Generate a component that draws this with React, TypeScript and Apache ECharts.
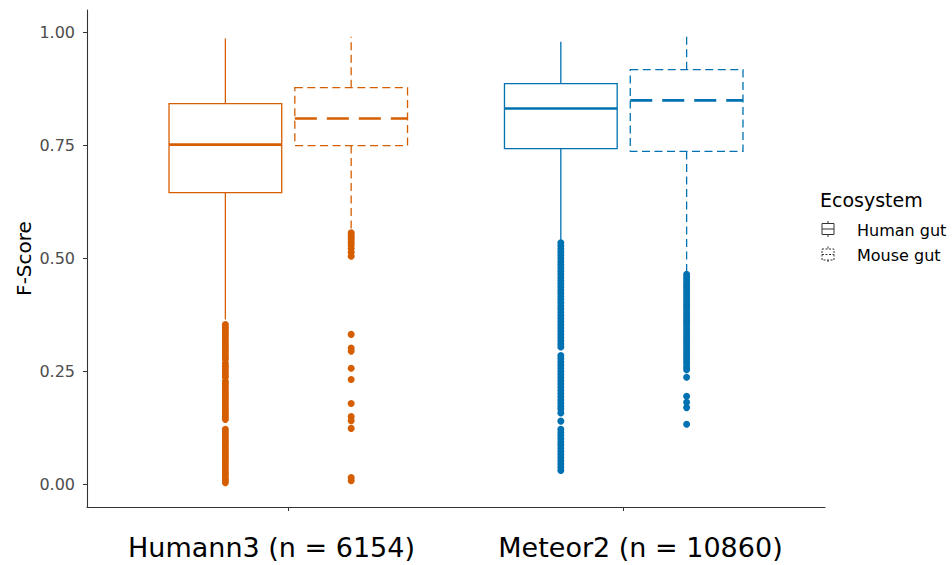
import React, { useEffect, useRef } from "react";
import * as echarts from "echarts";

// ---------- data ----------
const CATEGORIES = ["Humann3 (n = 6154)", "Meteor2 (n = 10860)"];
const GROUPS = ["Human gut", "Mouse gut"];
const Y_TICKS = [0, 0.25, 0.5, 0.75, 1];

// box stats: [lower whisker, Q1, median, Q3, upper whisker]
const HUMANN3_HUMAN_BOX = [0.365, 0.646, 0.752, 0.843, 0.987];
const HUMANN3_MOUSE_BOX = [0.56, 0.75, 0.81, 0.878, 0.991];
const METEOR2_HUMAN_BOX = [0.538, 0.743, 0.832, 0.887, 0.98];
const METEOR2_MOUSE_BOX = [0.472, 0.737, 0.85, 0.918, 1.0];

// outliers
const HUMANN3_HUMAN_OUT = [
  0.354, 0.348, 0.342, 0.336, 0.33, 0.324, 0.318, 0.312, 0.306, 0.3, 0.294, 0.288, 0.282, 0.277,
  0.268, 0.262, 0.256, 0.25, 0.244, 0.238,
  0.228, 0.222, 0.216, 0.21, 0.204, 0.198, 0.192, 0.186, 0.18, 0.174, 0.168, 0.162, 0.156, 0.15, 0.144,
  0.122, 0.116, 0.11, 0.104, 0.098, 0.092, 0.086, 0.08, 0.074, 0.068, 0.062, 0.056, 0.05, 0.044, 0.038,
  0.032, 0.026, 0.021, 0.014, 0.009, 0.004,
];
const HUMANN3_MOUSE_OUT = [
  0.557, 0.552, 0.547, 0.542, 0.536, 0.53, 0.522, 0.514, 0.505, 0.332, 0.302, 0.295, 0.257, 0.232,
  0.179, 0.15, 0.141, 0.124, 0.015, 0.008,
];
const METEOR2_HUMAN_OUT = [
  0.535, 0.528, 0.521, 0.514, 0.507, 0.5, 0.493, 0.486, 0.479, 0.472, 0.465, 0.458, 0.451, 0.444,
  0.437, 0.43, 0.423, 0.416, 0.409, 0.402, 0.395, 0.388, 0.381, 0.374, 0.367, 0.36, 0.353, 0.346,
  0.339, 0.332, 0.325, 0.318, 0.311, 0.304,
  0.285, 0.278, 0.271, 0.264, 0.257, 0.25, 0.243, 0.236, 0.229, 0.222, 0.215, 0.208, 0.201, 0.194,
  0.187, 0.18, 0.173, 0.167, 0.158, 0.14,
  0.122, 0.115, 0.108, 0.101, 0.094, 0.087, 0.08, 0.073, 0.066, 0.059, 0.052, 0.045, 0.038, 0.031,
];
const METEOR2_MOUSE_OUT = [
  0.465, 0.459, 0.453, 0.447, 0.441, 0.435, 0.429, 0.423, 0.417, 0.411, 0.405, 0.399, 0.393, 0.387,
  0.381, 0.375, 0.369, 0.363, 0.357, 0.351, 0.345, 0.339, 0.333, 0.327, 0.321, 0.315, 0.309, 0.303,
  0.297, 0.291, 0.285, 0.279, 0.273, 0.267, 0.26, 0.254, 0.237, 0.195, 0.182, 0.17, 0.133,
];

// ---------- styles / layout ----------
const COLORS = ["#D55E00", "#0072B2"];
const FONT = "DejaVu Sans";
const DODGE = 0.1875;
const HALF_W = 0.168;
const THIN_DASH = [8, 4.5];
const MED_DASH = [22, 10];

const catX = (i: number) => i + 1;

function makeBoxSeries(name: string, boxes: number[][], dashed: boolean, offset: number) {
  return {
    name,
    type: "custom",
    xAxisIndex: 0,
    yAxisIndex: 0,
    encode: { x: 0, y: [1, 2, 3, 4, 5] },
    data: boxes.map((b, i) => ({
      value: [catX(i) + offset, ...b],
      itemStyle: { color: COLORS[i] },
    })),
    z: 3,
    renderItem: (params: any, api: any) => {
      const x = api.value(0);
      const low = api.value(1);
      const q1 = api.value(2);
      const med = api.value(3);
      const q3 = api.value(4);
      const high = api.value(5);
      const color = api.visual("color");
      const [xL, yQ3] = api.coord([x - HALF_W, q3]);
      const [xR, yQ1] = api.coord([x + HALF_W, q1]);
      const [cx, yMed] = api.coord([x, med]);
      const yLow = api.coord([x, low])[1];
      const yHigh = api.coord([x, high])[1];
      const thin: any = { stroke: color, lineWidth: 1.3, fill: null };
      if (dashed) thin.lineDash = THIN_DASH;
      const medStyle: any = { stroke: color, lineWidth: 2.6 };
      if (dashed) medStyle.lineDash = MED_DASH;
      return {
        type: "group",
        children: [
          { type: "line", shape: { x1: cx, y1: yQ3, x2: cx, y2: yHigh }, style: thin },
          { type: "line", shape: { x1: cx, y1: yQ1, x2: cx, y2: yLow }, style: thin },
          {
            type: "rect",
            shape: { x: xL, y: yQ3, width: xR - xL, height: yQ1 - yQ3 },
            style: { ...thin, fill: "#ffffff" },
          },
          { type: "line", shape: { x1: xL, y1: yMed, x2: xR, y2: yMed }, style: medStyle },
        ],
      };
    },
  };
}

function makeOutSeries(values: number[], x: number, color: string) {
  return {
    type: "scatter",
    xAxisIndex: 0,
    yAxisIndex: 0,
    symbol: "circle",
    symbolSize: 7,
    itemStyle: { color, opacity: 1 },
    z: 2,
    data: values.map((v) => [x, v]),
  };
}

function legendKey(cy: number, dashed: boolean) {
  const x0 = 822;
  const w = 12;
  const st: any = { stroke: "#333333", lineWidth: 1, fill: "#ffffff" };
  if (dashed) st.lineDash = [2, 1.5];
  return {
    type: "group",
    children: [
      { type: "line", shape: { x1: x0 + w / 2, y1: cy - 8, x2: x0 + w / 2, y2: cy - 5.5 }, style: st },
      { type: "line", shape: { x1: x0 + w / 2, y1: cy + 5.5, x2: x0 + w / 2, y2: cy + 8 }, style: st },
      { type: "rect", shape: { x: x0, y: cy - 5.5, width: w, height: 11 }, style: st },
      { type: "line", shape: { x1: x0, y1: cy, x2: x0 + w, y2: cy }, style: st },
    ],
  };
}

export default function App() {
  const ref = useRef<HTMLDivElement>(null);
  useEffect(() => {
    if (!ref.current) return;
    const chart = echarts.init(ref.current, null, { renderer: "svg" });
    const option: any = {
      animation: false,
      backgroundColor: "#ffffff",
      grid: { left: 87, right: 127, top: 10, bottom: 58, containLabel: false },
      xAxis: [
        {
          type: "value",
          min: 0.4,
          max: 2.6,
          axisLine: { show: true, onZero: false, lineStyle: { color: "#333333", width: 1.1 } },
          axisTick: { show: true, length: 4, customValues: [1, 2], lineStyle: { color: "#333333" } },
          axisLabel: { show: false },
          splitLine: { show: false },
        },
        {
          type: "category",
          position: "bottom",
          data: CATEGORIES,
          axisLine: { show: false, onZero: false },
          axisTick: { show: false },
          axisLabel: {
            show: true,
            interval: 0,
            hideOverlap: false,
            fontFamily: FONT,
            fontSize: 27,
            color: "#000000",
            margin: 27,
          },
          splitLine: { show: false },
        },
      ],
      yAxis: {
        type: "value",
        min: -0.05,
        max: 1.05,
        name: "F-Score",
        nameLocation: "middle",
        nameGap: 53,
        nameMoveOverlap: false,
        nameTextStyle: { fontFamily: FONT, fontSize: 20, color: "#000000" },
        axisLine: { show: true, onZero: false, lineStyle: { color: "#333333", width: 1.1 } },
        axisTick: { show: true, length: 4, customValues: Y_TICKS, lineStyle: { color: "#333333" } },
        axisLabel: {
          customValues: Y_TICKS,
          formatter: (v: number) => v.toFixed(2),
          fontFamily: FONT,
          fontSize: 16,
          color: "#4d4d4d",
          margin: 12,
        },
        splitLine: { show: false },
      },
      series: [
        makeOutSeries(HUMANN3_HUMAN_OUT, catX(0) - DODGE, COLORS[0]),
        makeOutSeries(HUMANN3_MOUSE_OUT, catX(0) + DODGE, COLORS[0]),
        makeOutSeries(METEOR2_HUMAN_OUT, catX(1) - DODGE, COLORS[1]),
        makeOutSeries(METEOR2_MOUSE_OUT, catX(1) + DODGE, COLORS[1]),
        makeBoxSeries(GROUPS[0], [HUMANN3_HUMAN_BOX, METEOR2_HUMAN_BOX], false, -DODGE),
        makeBoxSeries(GROUPS[1], [HUMANN3_MOUSE_BOX, METEOR2_MOUSE_BOX], true, DODGE),
      ],
      graphic: [
        {
          type: "text",
          x: 820,
          y: 200,
          style: { text: "Ecosystem", fontFamily: FONT, fontSize: 19, fill: "#000000", verticalAlign: "middle" },
        },
        legendKey(229, false),
        legendKey(254.5, true),
        {
          type: "text",
          x: 857,
          y: 230,
          style: { text: GROUPS[0], fontFamily: FONT, fontSize: 16, fill: "#000000", verticalAlign: "middle" },
        },
        {
          type: "text",
          x: 857,
          y: 255.5,
          style: { text: GROUPS[1], fontFamily: FONT, fontSize: 16, fill: "#000000", verticalAlign: "middle" },
        },
      ],
    };
    chart.setOption(option);
    return () => chart.dispose();
  }, []);
  return (
    <div
      ref={ref}
      style={{ position: "fixed", left: 0, top: 0, width: 952, height: 565, background: "#fff" }}
    />
  );
}
